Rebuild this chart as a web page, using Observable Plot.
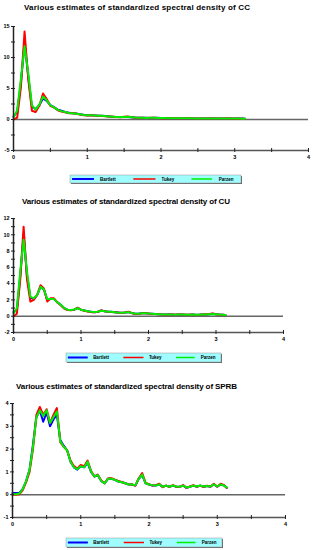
<!DOCTYPE html>
<html><head><meta charset="utf-8">
<script src="https://cdn.jsdelivr.net/npm/d3@7"></script>
<script src="https://cdn.jsdelivr.net/npm/@observablehq/plot@0.6"></script>
<style>
body{margin:0;background:#fff;width:313px;height:550px;position:relative;overflow:hidden;font-family:"Liberation Sans",Arial,sans-serif}
.panel{position:absolute;left:0}
#overlay{position:absolute;left:0;top:0}
</style>
</head><body>
<script>
const freq = [0,0.05,0.1,0.15,0.2,0.25,0.3,0.35,0.4,0.45,
0.5,0.55,0.6,0.65,0.7,0.75,0.8,0.85,0.9,0.95,
1,1.05,1.1,1.15,1.2,1.25,1.3,1.35,1.4,1.45,
1.5,1.55,1.6,1.65,1.7,1.75,1.8,1.85,1.9,1.95,
2,2.05,2.1,2.15,2.2,2.25,2.3,2.35,2.4,2.45,
2.5,2.55,2.6,2.65,2.7,2.75,2.8,2.85,2.9,2.95,
3,3.05,3.1,3.14];

const ccBartlett = [0.5,1.2,6.0,12.3,7.0,2.0,1.7,2.3,3.4,3.0,
2.3,2.0,1.6,1.4,1.2,1.1,1.0,0.95,0.85,0.75,
0.7,0.68,0.65,0.62,0.6,0.55,0.5,0.45,0.42,0.4,
0.4,0.42,0.38,0.33,0.3,0.28,0.27,0.26,0.28,0.27,
0.25,0.24,0.22,0.2,0.2,0.19,0.2,0.22,0.2,0.18,
0.17,0.18,0.17,0.16,0.18,0.17,0.16,0.17,0.18,0.16,
0.15,0.17,0.15,0.14];
const ccTukey = [0.0,0.3,5.2,14.2,6.5,1.4,1.2,2.2,4.2,3.3,
2.2,1.9,1.5,1.3,1.15,1.0,1.05,0.92,0.8,0.7,
0.66,0.7,0.63,0.6,0.58,0.52,0.48,0.45,0.4,0.38,
0.45,0.5,0.38,0.3,0.28,0.27,0.25,0.28,0.3,0.26,
0.22,0.23,0.21,0.19,0.2,0.18,0.19,0.23,0.2,0.17,
0.16,0.18,0.16,0.15,0.19,0.17,0.15,0.16,0.19,0.16,
0.14,0.18,0.14,0.12];
const ccParzen = [0.3,1.5,6.5,11.8,7.5,2.3,1.6,2.4,3.7,3.1,
2.3,1.95,1.55,1.35,1.2,1.05,1.0,0.93,0.83,0.73,
0.68,0.67,0.64,0.61,0.59,0.54,0.49,0.45,0.42,0.4,
0.42,0.44,0.38,0.32,0.29,0.28,0.26,0.27,0.29,0.26,
0.24,0.23,0.21,0.2,0.2,0.19,0.2,0.21,0.19,0.18,
0.17,0.17,0.16,0.16,0.17,0.16,0.16,0.17,0.17,0.16,
0.15,0.16,0.14,0.13];

const cuBartlett = [0.5,0.8,5.0,10.0,5.0,2.3,2.1,2.6,3.6,3.3,
2.0,2.1,2.1,1.7,1.4,1.0,0.8,0.75,0.8,1.0,
0.8,0.7,0.6,0.55,0.5,0.55,0.7,0.6,0.55,0.55,
0.5,0.45,0.42,0.45,0.5,0.4,0.3,0.3,0.35,0.35,
0.32,0.3,0.28,0.25,0.22,0.2,0.22,0.2,0.18,0.2,
0.2,0.18,0.18,0.2,0.17,0.18,0.2,0.22,0.25,0.3,
0.25,0.2,0.18,0.15];
const cuTukey = [0.0,0.3,4.5,11.0,4.5,1.8,2.0,2.6,3.8,3.4,
1.8,2.2,2.2,1.7,1.35,0.95,0.75,0.72,0.8,1.05,
0.8,0.68,0.58,0.5,0.48,0.55,0.72,0.62,0.55,0.53,
0.5,0.45,0.4,0.45,0.55,0.4,0.28,0.28,0.35,0.36,
0.32,0.28,0.27,0.24,0.2,0.19,0.22,0.2,0.17,0.2,
0.21,0.17,0.17,0.21,0.16,0.17,0.2,0.22,0.26,0.35,
0.25,0.19,0.17,0.13];
const cuParzen = [0.3,1.0,5.5,9.4,5.5,2.4,2.2,2.6,3.6,3.3,
2.1,2.1,2.1,1.7,1.4,1.0,0.8,0.76,0.82,0.98,
0.8,0.7,0.6,0.55,0.52,0.56,0.68,0.6,0.55,0.55,
0.5,0.46,0.43,0.46,0.5,0.4,0.32,0.31,0.35,0.35,
0.32,0.3,0.28,0.25,0.22,0.21,0.22,0.2,0.19,0.2,
0.2,0.18,0.18,0.2,0.18,0.18,0.2,0.22,0.25,0.28,
0.25,0.21,0.18,0.15];

const sprbBartlett = [0.07,0.07,0.08,0.25,0.6,1.1,2.2,3.4,3.7,3.2,
3.6,3.0,3.3,3.5,2.4,2.15,1.95,1.45,1.2,1.1,
1.25,1.2,1.4,1.0,0.8,0.85,0.6,0.5,0.7,0.7,
0.65,0.58,0.55,0.5,0.45,0.45,0.4,0.7,0.85,0.5,
0.45,0.4,0.4,0.45,0.35,0.4,0.35,0.4,0.35,0.35,
0.4,0.3,0.35,0.4,0.35,0.4,0.35,0.38,0.35,0.45,
0.35,0.45,0.4,0.3];
const sprbTukey = [0.0,0.0,0.02,0.2,0.55,1.0,2.0,3.5,3.85,3.5,
3.75,3.15,3.5,3.8,2.3,2.1,1.95,1.5,1.25,1.15,
1.3,1.25,1.5,1.05,0.8,0.88,0.62,0.5,0.72,0.72,
0.66,0.6,0.56,0.5,0.46,0.45,0.4,0.72,0.95,0.52,
0.46,0.4,0.42,0.48,0.33,0.4,0.34,0.42,0.35,0.34,
0.42,0.3,0.36,0.42,0.35,0.4,0.34,0.4,0.35,0.48,
0.35,0.48,0.42,0.3];
const sprbParzen = [0.02,0.02,0.05,0.25,0.6,1.1,2.1,3.4,3.7,3.45,
3.7,3.15,3.4,3.65,2.35,2.1,1.95,1.45,1.2,1.12,
1.25,1.2,1.45,1.02,0.8,0.86,0.6,0.5,0.7,0.7,
0.65,0.58,0.55,0.5,0.45,0.45,0.42,0.7,0.88,0.5,
0.45,0.42,0.4,0.45,0.35,0.4,0.35,0.4,0.36,0.35,
0.4,0.32,0.35,0.4,0.36,0.4,0.36,0.38,0.36,0.45,
0.36,0.45,0.4,0.32];

const seriesNames = ["Bartlett","Tukey","Parzen"];
const seriesColors = ["#0000ff","#ff0000","#00ee00"];
const xMajor = [0,1,2,3,4];
const xMinor = [0,0.5,1,1.5,2,2.5,3,3.5,4];
const ccYMajor = [-5,0,5,10,15];
const ccYMinor = [-5,-2.5,0,2.5,5,7.5,10,12.5,15];
const cuYMajor = [-2,0,2,4,6,8,10,12];
const cuYMinor = [-2,-1,0,1,2,3,4,5,6,7,8,9,10,11,12];
const sprbYMajor = [-1,0,1,2,3,4];
const sprbYMinor = [-1,-0.5,0,0.5,1,1.5,2,2.5,3,3.5,4];

const titles = [
  "Various estimates of standardized spectral density of CC",
  "Various estimates of standardized spectral density of CU",
  "Various estimates of standardized spectral density of SPRB"
];

const panels = [
  {series:[ccBartlett,ccTukey,ccParzen], yMajor:ccYMajor, yMinor:ccYMinor,
   top:20, height:145, ml:13, mr:5, mt:6, mb:15,
   title:{x:24, y:10, w:226}, legend:{x:70, y:175, w:171, h:8}},
  {series:[cuBartlett,cuTukey,cuParzen], yMajor:cuYMajor, yMinor:cuYMinor,
   top:210, height:135, ml:13, mr:30, mt:8, mb:13,
   title:{x:22, y:204, w:208}, legend:{x:66, y:353, w:155, h:9}},
  {series:[sprbBartlett,sprbTukey,sprbParzen], yMajor:sprbYMajor, yMinor:sprbYMinor,
   top:395, height:135, ml:12, mr:28, mt:8, mb:13,
   title:{x:16, y:389, w:221}, legend:{x:66, y:538, w:156, h:9}}
];

const font = "'Liberation Sans', Arial, sans-serif";
const fmt = (d) => String(d);

panels.forEach((p) => {
  const yMin = p.yMajor[0], yMax = p.yMajor[p.yMajor.length - 1];
  const rows = [];
  p.series.forEach((vals, s) => vals.forEach((v, i) => rows.push({f: freq[i], v, s: seriesNames[s]})));
  const chart = Plot.plot({
    width: 313, height: p.height,
    marginLeft: p.ml, marginRight: p.mr, marginTop: p.mt, marginBottom: p.mb,
    x: {domain: [0, 4], label: null},
    y: {domain: [yMin, yMax], label: null},
    color: {domain: seriesNames, range: seriesColors},
    style: {fontFamily: font, fontSize: "5.5px", fontWeight: "bold", color: "#000", background: "transparent", overflow: "visible"},
    marks: [
      Plot.ruleY([yMin], {stroke: "#555", strokeWidth: 1.5}),
      Plot.ruleY([0], {stroke: "#666", strokeWidth: 1.5}),
      Plot.line(rows, {x: "f", y: "v", z: "s", stroke: "s", strokeWidth: 2}),
      Plot.ruleX([0], {stroke: "#222", strokeWidth: 1.5}),
      Plot.axisX({ticks: xMinor, tickSize: 4, dy: -2, tickFormat: () => "", label: null, stroke: "#222"}),
      Plot.axisX({ticks: xMajor, tickSize: 0, tickPadding: 5, tickFormat: fmt, label: null, fontSize: 5.5, fontWeight: "bold"}),
      Plot.axisY({ticks: p.yMinor, tickSize: 4, dx: 2, tickFormat: () => "", label: null, stroke: "#222"}),
      Plot.axisY({ticks: p.yMajor, tickSize: 0, tickPadding: 4, tickFormat: fmt, label: null, fontSize: 5.5, fontWeight: "bold"})
    ]
  });
  chart.classList.add("panel");
  chart.style.top = p.top + "px";
  document.body.appendChild(chart);
});

// titles and legends overlay
const ns = "http://www.w3.org/2000/svg";
const ov = document.createElementNS(ns, "svg");
ov.setAttribute("id", "overlay");
ov.setAttribute("width", 313);
ov.setAttribute("height", 550);
document.body.appendChild(ov);
function el(tag, attrs, text) {
  const e = document.createElementNS(ns, tag);
  for (const k in attrs) e.setAttribute(k, attrs[k]);
  if (text != null) e.textContent = text;
  ov.appendChild(e);
  return e;
}
panels.forEach((p, k) => {
  el("text", {x: p.title.x, y: p.title.y, "font-family": font, "font-weight": "bold", "font-size": 8,
    textLength: p.title.w, lengthAdjust: "spacing", fill: "#000"}, titles[k]);
  const L = p.legend;
  el("rect", {x: L.x + 1, y: L.y + 1, width: L.w, height: L.h, fill: "#666"});
  el("rect", {x: L.x, y: L.y, width: L.w, height: L.h, fill: "#9ffcff", stroke: "#999", "stroke-width": 0.5});
  const segs = [[0.012, 0.14, 0.175], [0.37, 0.5, 0.535], [0.71, 0.83, 0.87]];
  segs.forEach((sg, i) => {
    el("line", {x1: L.x + sg[0]*L.w, x2: L.x + sg[1]*L.w, y1: L.y + L.h/2, y2: L.y + L.h/2,
      stroke: seriesColors[i], "stroke-width": i === 0 ? 2 : 1.5});
    el("text", {x: L.x + sg[2]*L.w, y: L.y + L.h/2 + 1.6, "font-family": font, "font-weight": "bold",
      "font-size": 4.5, fill: "#000"}, seriesNames[i]);
  });
});
</script>
</body></html>
